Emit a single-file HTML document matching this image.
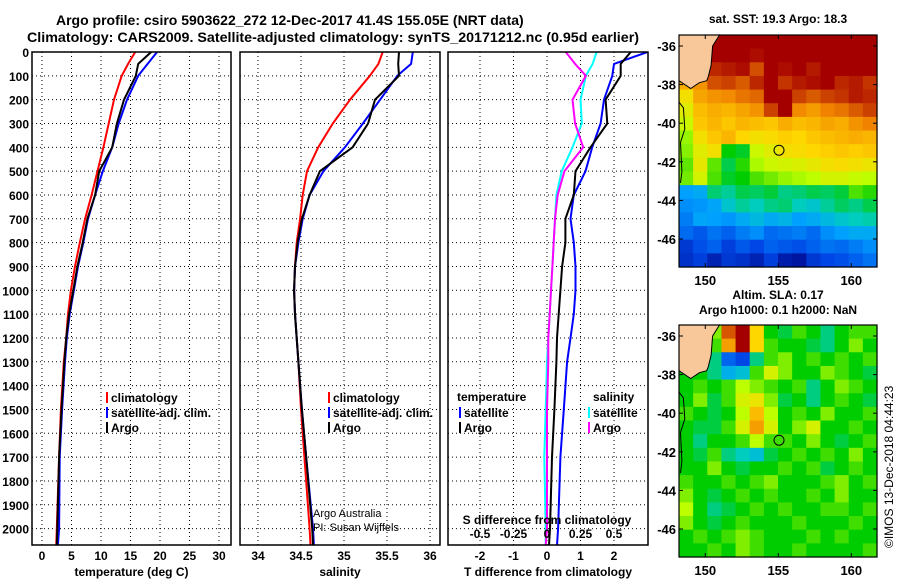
<!DOCTYPE html>
<html><head><meta charset="utf-8">
<style>
html,body{margin:0;padding:0;background:#fff;}
svg{display:block;font-family:"Liberation Sans",sans-serif;font-weight:bold;}
</style></head>
<body>
<svg id="s" width="900" height="580" viewBox="0 0 900 580">
<text x="56" y="25" text-anchor="start" font-size="14">Argo profile: csiro 5903622_272 12-Dec-2017 41.4S 155.05E (NRT data)</text>
<text x="27" y="42" text-anchor="start" font-size="14" textLength="612" lengthAdjust="spacingAndGlyphs">Climatology: CARS2009. Satellite-adjusted climatology: synTS_20171212.nc (0.95d earlier)</text>
</svg>
<script>
// ---------- data ----------
const depthTicks=[0,100,200,300,400,500,600,700,800,900,1000,1100,1200,1300,1400,1500,1600,1700,1800,1900,2000];
const tTicks=[0,5,10,15,20,25,30];
const sTicks=[34,34.5,35,35.5,36];
const dTTicks=[-2,-1,0,1,2];
const dSTicks=[-0.5,-0.25,0,0.25,0.5];
const dSTickLabels=["-0.5","-0.25","0","0.25","0.5"];
const pDepth=[0,50,100,200,300,400,500,600,700,800,900,1000,1100,1200,1300,1500,1700,2000,2070];
const tClim=[15.8,14.6,13.5,12.2,11.3,10.4,9.4,8.4,7.3,6.4,5.6,4.9,4.4,4.1,3.7,3.2,2.9,2.5,2.4];
const tSat=[19.5,17.9,16.3,14.4,13.0,11.9,10.3,9.0,7.8,7.0,6.1,5.4,4.7,4.2,3.9,3.4,3.0,2.9,2.7];
const tArgo=[18.5,16.3,15.9,13.9,12.7,11.9,9.7,9.0,7.7,6.9,6.0,5.3,4.6,4.1,3.8,3.3,2.9,2.6,2.5];
const sClim=[35.45,35.4,35.3,35.07,34.87,34.7,34.57,34.52,34.49,34.45,34.43,34.42,34.43,34.45,34.47,34.5,34.54,34.6,34.61];
const sSat=[35.8,35.78,35.62,35.42,35.22,35.01,34.76,34.6,34.52,34.47,34.43,34.42,34.43,34.45,34.47,34.51,34.56,34.64,34.65];
const sArgo=[35.64,35.63,35.64,35.36,35.28,35.1,34.72,34.6,34.51,34.46,34.43,34.42,34.43,34.45,34.47,34.51,34.56,34.63,34.64];
const dTSat=[3.0,2.0,1.95,1.7,1.6,1.35,1.15,0.8,0.7,0.8,0.85,0.85,0.8,0.7,0.6,0.5,0.4,0.33,0.3];
const dTArgo=[2.5,2.2,2.2,1.75,1.8,1.3,0.85,0.8,0.55,0.55,0.45,0.4,0.35,0.3,0.28,0.22,0.15,0.09,0.06];
const dSSat=[0.37,0.34,0.29,0.25,0.26,0.19,0.11,0.07,0.06,0.05,0.04,0.03,0.02,0.01,0.0,-0.01,-0.02,-0.01,-0.01];
const dSArgo=[0.14,0.21,0.29,0.19,0.21,0.27,0.13,0.08,0.06,0.05,0.04,0.03,0.02,0.01,0.01,0.0,0.0,0.0,-0.01];
const mapLons=[148.5,149.5,150.5,151.5,152.5,153.5,154.5,155.5,156.5,157.5,158.5,159.5,160.5,161.5];
const lonTicks=[150,155,160];
const latTicks=[-36,-38,-40,-42,-44,-46];
const L=null;
const sstGrid=[
[L,L,19,19,19,19,19,19,19,19,19,19,19,19],
[L,L,19,19,19,18.9,19,19,19,19,19,19,19,19],
[L,L,18.7,18.8,18.9,18.4,19,18.9,19,18.8,19,19,19,19],
[17.5,17.8,18.4,18.5,18.3,18.7,19,18.6,18.8,18.9,19,18.7,18.8,18.6],
[16.8,17.6,17.8,17.9,18.1,18.2,19,19,18.5,18.3,18.5,18.6,18.8,18.7],
[16.5,17.3,17.5,17.4,17.6,17.8,18.5,19,17.9,17.7,18,18.1,18.3,18.5],
[16.2,17.2,17.4,17.2,17.4,17.3,17.2,17.5,17.3,17.4,17.6,17.5,17.8,18],
[15.8,16.8,17.2,17.4,17,16.8,16.9,17.1,17,17.2,17.3,17.4,17.5,17.4],
[15.7,16.5,16.8,15,14.8,16.2,16.5,16.8,16.9,17,17.1,17.2,17.1,17.2],
[15.5,16.6,15.5,14.6,15.2,15.9,16.2,16.3,16.4,16.6,16.8,16.9,16.8,16.7],
[15.6,16.3,15.4,14.8,15,15.4,15.6,15.8,15.9,16,16.3,16.3,16.1,16],
[13,13.2,14.4,14.2,14.6,14.5,14.7,14.3,14.4,14.6,14.5,14.7,15.4,15.2],
[12.8,12.9,13.1,13.8,14.2,14.0,14.3,14.4,14,13.8,14.2,14.5,14.3,14.6],
[12.6,13.1,13,12.9,13.2,13.5,13.2,13.4,13,13.2,13.5,13.8,14.0,14.1],
[12.4,12.2,12.5,12.3,12.6,12.8,12.4,12.5,12.6,12.4,12.8,13.0,13.2,13.2],
[11.8,12.1,12.3,11.9,12.2,12.0,12.3,12.2,12.1,12.3,12.5,12.4,12.6,12.8],
[11.7,11.9,11.5,11.8,11.7,11.5,11.9,11.4,11.3,11.8,12,12.1,12.3,12.5]];
const slaGrid=[
[L,L,0.1,0.5,0.6,0.3,0.0,-0.05,0.05,0.0,-0.1,0.0,0.05,0.05],
[L,L,0.05,0.4,0.6,0.3,0.05,0.0,0.0,-0.05,-0.1,0.0,0.1,0.0],
[L,L,-0.1,-0.4,-0.45,-0.1,0.05,0.1,0.0,0.05,0.0,0.05,0.0,0.05],
[0,0,-0.1,-0.25,-0.2,0.05,0.2,0.1,0.0,0.0,0.1,0.05,0.0,-0.05],
[0,0.05,0.0,0.05,0.15,0.1,0.05,0.0,0.05,-0.1,0.0,0.1,0.05,0.0],
[0,0.1,-0.05,0.05,0.2,0.25,0.1,-0.05,0.0,-0.1,0.0,0.05,0.0,-0.05],
[0.05,0.0,-0.05,0.0,0.15,0.35,0.15,0.0,0.05,0.0,0.1,0.0,0.0,0.05],
[0.0,-0.05,-0.05,0.05,0.2,0.4,0.2,0.0,0.1,0.2,0.0,0.0,0.05,0.0],
[0,-0.1,0.0,0.0,0.05,0.15,0.05,0.05,0.0,0.1,0.0,-0.05,0.0,0.05],
[0.0,-0.05,0.05,-0.1,-0.15,-0.2,-0.05,0.0,0.05,0.0,0.05,0.0,0.1,0.0],
[0,0.0,0.1,0.0,-0.05,0.0,0.0,0.05,0.0,0.05,-0.05,0.0,0.05,0.0],
[0.05,0.0,0.0,0.05,0.0,0.05,0.1,0.0,0.0,0.0,0.05,0.1,0.0,0.05],
[0.1,0.0,-0.05,0.0,0.05,0.0,0.05,0.0,0.0,0.05,0.0,0.1,0.0,0.0],
[0.15,0.0,-0.1,-0.05,0.0,0.05,0.0,0.05,0.0,0.0,0.05,0.05,0.0,0.05],
[0.1,0.0,-0.05,0.0,0.05,0.0,0.0,0.0,0.05,0.0,0.0,0.0,0.05,0.0],
[0.0,0.05,0.0,0.05,0.1,0.05,0.0,0.0,0.0,0.05,0.0,0.05,0.0,0.0],
[0.0,0.0,0.05,0.0,0.1,0.05,0.0,0.0,0.05,0.0,0.0,0.0,0.0,0.05]];
const coastLon=[151.0,150.5,150.4,150.2,150.1,149.6,149.0,148.2,148.2,148.5,148.6,148.3,148.4,148.3];
const coastLat=[-35.4,-36.0,-37.0,-37.6,-37.8,-37.9,-38.2,-37.8,-38.9,-39.2,-40.3,-41.0,-42.5,-43.1];
const argoLon=155.05, argoLat=-41.4;

// ---------- helpers ----------
const S=document.getElementById('s');const NS='http://www.w3.org/2000/svg';
function mk(tag,attrs,parent){const e=document.createElementNS(NS,tag);for(const k in attrs)e.setAttribute(k,attrs[k]);(parent||S).appendChild(e);return e;}
function txt(x,y,t,size,anchor,parent){const e=mk('text',{x:x,y:y,'font-size':size,'text-anchor':anchor||'start'},parent);e.textContent=t;return e;}
const Y0=52,YB=545;
const yD=d=>Y0+d*0.2383;
function lin(d0,d1,r0,r1){return v=>r0+(v-d0)*(r1-r0)/(d1-d0);}

function panel(name,x0,x1,xs,ticks,tickLabels,xtitle,leftLabels){
  const g=mk('g',{});
  
  
  depthTicks.forEach(d=>{ if(d===0)return; const l=mk('line',{x1:x0,x2:x1,y1:yD(d),y2:yD(d),stroke:'#000','stroke-width':1,'stroke-dasharray':'1,3'},g);
    
    });
  ticks.forEach((t,i)=>{const x=xs(t); const l=mk('line',{x1:x,x2:x,y1:Y0,y2:YB,stroke:'#000','stroke-width':1,'stroke-dasharray':'1,3'},g);
    
    
    const tl=txt(x,560,tickLabels[i],12,'middle',g);
    
    });
  if(leftLabels){depthTicks.forEach(d=>{const tl=txt(x0-3,yD(d)+5,String(d),12,'end',g);
    
    });}
  const xt=txt((x0+x1)/2,576,xtitle,12,'middle',g);
  
  
  return g;
}
function series(g,name,xs,vals,color,w){
  const pts=pDepth.map((d,i)=>xs(vals[i]).toFixed(1)+','+yD(d).toFixed(1)).join(' ');
  const p=mk('polyline',{points:pts,fill:'none',stroke:color,'stroke-width':w||2,'stroke-linejoin':'round'},g);
  
  
}
function border(g,x0,x1){const r=mk('rect',{x:x0,y:Y0,width:x1-x0,height:YB-Y0,fill:'none',stroke:'#000','stroke-width':1.5},g);
  
  }
function legend(g,x,y,color,label){const b=mk('rect',{x:x,y:y-9,width:2,height:11,fill:color},g);
  
  
  const t=txt(x+5,y+1,label,12,'start',g);
  
  }

// ---------- panel 1: temperature ----------
const xT=lin(0,30,42,219);
const g1=panel('temperature-panel',32,231,xT,tTicks,tTicks.map(String),'temperature (deg C)',true);
series(g1,'temperature-climatology-line',xT,tClim,'#ff0000');
series(g1,'temperature-satellite-line',xT,tSat,'#0000ff');
series(g1,'temperature-argo-line',xT,tArgo,'#000000');
border(g1,32,231);
legend(g1,106,401,'#ff0000','climatology');
legend(g1,106,416,'#0000ff','satellite-adj. clim.');
legend(g1,106,431,'#000000','Argo');

// ---------- panel 2: salinity ----------
const xS=lin(34,36,258,430);
const g2=panel('salinity-panel',240,440,xS,sTicks,sTicks.map(String),'salinity',false);
series(g2,'salinity-climatology-line',xS,sClim,'#ff0000');
series(g2,'salinity-satellite-line',xS,sSat,'#0000ff');
series(g2,'salinity-argo-line',xS,sArgo,'#000000');
border(g2,240,440);
legend(g2,328,401,'#ff0000','climatology');
legend(g2,328,416,'#0000ff','satellite-adj. clim.');
legend(g2,328,431,'#000000','Argo');
let c1=txt(313,517,'Argo Australia',11,'start',g2);c1.setAttribute('font-weight','normal');


let c2=txt(313,531,'PI: Susan Wijffels',11,'start',g2);c2.setAttribute('font-weight','normal');



// ---------- panel 3: differences ----------
const xDT=lin(0,1,547,580.5);
const xDS=lin(0,0.25,547,580.5);
const g3=panel('difference-panel',448,648,xDT,dTTicks,dTTicks.map(String),'T difference from climatology',false);
const clip=mk('clipPath',{id:'c3'});mk('rect',{x:448,y:Y0,width:200,height:YB-Y0},clip);
const g3c=mk('g',{'clip-path':'url(#c3)'},g3);
series(g3c,'salinity-diff-satellite-line',xDS,dSSat,'#00ffff');
series(g3c,'salinity-diff-argo-line',xDS,dSArgo,'#ff00ff');
series(g3c,'temperature-diff-satellite-line',xDT,dTSat,'#0000ff');
series(g3c,'temperature-diff-argo-line',xDT,dTArgo,'#000000');
border(g3,448,648);
let st=txt(547,524,'S difference from climatology',12,'middle',g3);


dSTicks.forEach((t,i)=>{const e=txt(xDS(t),538,dSTickLabels[i],12,'middle',g3);
  
  });
let lt=txt(457,401,'temperature',12,'start',g3);


legend(g3,459,416,'#0000ff','satellite');
legend(g3,459,431,'#000000','Argo');
let ls=txt(593,401,'salinity',12,'start',g3);


legend(g3,588,416,'#00ffff','satellite');
legend(g3,588,431,'#ff00ff','Argo');

// ---------- maps ----------
const stops=[[0,[0,0,130]],[0.125,[0,70,230]],[0.25,[0,160,255]],[0.375,[0,205,190]],[0.5,[0,205,0]],[0.625,[190,255,0]],[0.75,[255,215,0]],[0.875,[240,130,0]],[1,[165,0,0]]];
function cmap(t){t=Math.max(0,Math.min(1,t));for(let i=1;i<stops.length;i++){if(t<=stops[i][0]){const a=stops[i-1],b=stops[i];const f=(t-a[0])/(b[0]-a[0]);const c=a[1].map((v,k)=>Math.round(v+(b[1][k]-v)*f));return 'rgb('+c.join(',')+')';}}return 'rgb(165,0,0)';}
function drawMap(name,top,grid,norm,title1,title2){
  const X0=679,X1=877,H=232;
  const lonX=lin(148.2,161.76,X0,X1);
  const latY=lin(-35.43,-47.45,top,top+H);
  const g=mk('g',{});
  
  
  const nr=grid.length,nc=mapLons.length;const cw=(X1-X0)/nc,ch=H/nr;
  mk('rect',{x:X0,y:top,width:X1-X0,height:H,fill:'#f9c89a'},g);
  grid.forEach((row,r)=>row.forEach((v,c)=>{if(v===null)return;
    const cell=mk('rect',{x:(X0+c*cw).toFixed(2),y:(top+r*ch).toFixed(2),width:(cw+0.6).toFixed(2),height:(ch+0.6).toFixed(2),fill:cmap(norm(v))},g);
    
    }));
  const land=mk('polygon',{points:X0+','+top+' '+coastLon.slice(0,8).map((lo,i)=>lonX(lo).toFixed(1)+','+latY(coastLat[i]).toFixed(1)).join(' '),fill:'#f9c89a'},g);
  
  
  const cl=mk('polyline',{points:coastLon.map((lo,i)=>lonX(lo).toFixed(1)+','+latY(coastLat[i]).toFixed(1)).join(' '),fill:'none',stroke:'#000','stroke-width':1},g);
  
  
  const fr=mk('rect',{x:X0,y:top,width:X1-X0,height:H,fill:'none',stroke:'#000','stroke-width':1.2},g);
  
  
  lonTicks.forEach(lo=>{const x=lonX(lo);mk('line',{x1:x,x2:x,y1:top,y2:top+4,stroke:'#000'},g);mk('line',{x1:x,x2:x,y1:top+H,y2:top+H-4,stroke:'#000'},g);
    const t=txt(x,top+H+18,String(lo),13,'middle',g);
    
    });
  latTicks.forEach(la=>{const y=latY(la);mk('line',{x1:X0,x2:X0+4,y1:y,y2:y,stroke:'#000'},g);mk('line',{x1:X1,x2:X1-4,y1:y,y2:y,stroke:'#000'},g);
    const t=txt(X0-3,y+5,String(la),13,'end',g);
    
    });
  const m=mk('circle',{cx:lonX(argoLon),cy:latY(argoLat),r:5,fill:'none',stroke:'#000','stroke-width':1},g);
  
  
  if(title2){const a=txt(778,top-26,title1,12,'middle',g);
    const b=txt(778,top-11,title2,12,'middle',g);}
  else{const a=txt(778,top-12,title1,12,'middle',g);}
}
drawMap('sst-map',35,sstGrid,v=>(v-11)/8,'sat. SST: 19.3 Argo: 18.3');
drawMap('sla-map',325,slaGrid,v=>(v+0.6)/1.2,'Altim. SLA: 0.17','Argo h1000: 0.1 h2000: NaN');
const ts=txt(0,0,'\u00A9IMOS 13-Dec-2018 04:44:23',12,'start');
ts.setAttribute('font-weight','normal');
ts.setAttribute('transform','translate(893,548) rotate(-90)');


</script>
</body></html>
